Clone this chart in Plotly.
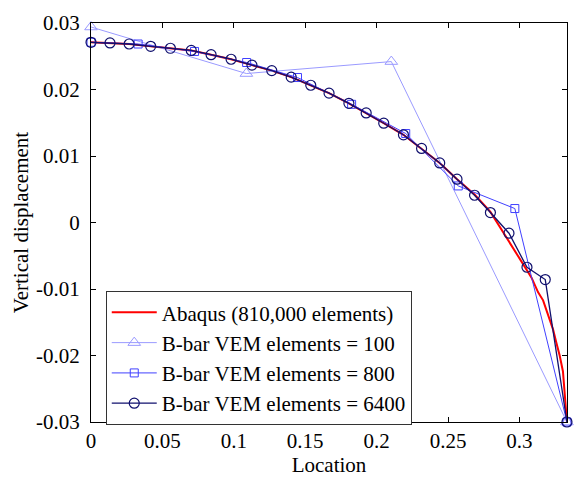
import plotly.graph_objects as go

# Abaqus reference solution (810,000 elements)
abaqus_x = [0, 0.0133, 0.0267, 0.0418, 0.0556, 0.0702, 0.0841, 0.0981, 0.1127, 0.1266,
            0.1402, 0.1539, 0.1667, 0.1806, 0.1927, 0.2050, 0.2188, 0.2315, 0.2442, 0.2563,
            0.2686, 0.2797, 0.2910, 0.3027, 0.3085, 0.3131, 0.3166, 0.3200, 0.3236, 0.3258,
            0.3282, 0.3305, 0.3317, 0.3333]
abaqus_y = [0.0271, 0.0270, 0.02684, 0.0265, 0.0262, 0.02587, 0.02523, 0.02455, 0.02367, 0.02284,
            0.02186, 0.02064, 0.01945, 0.01792, 0.01647, 0.01493, 0.01319, 0.01114, 0.00896, 0.00651,
            0.0042, 0.0016, -0.0022, -0.0063, -0.0083, -0.0105, -0.0117, -0.0137, -0.0161, -0.0180,
            -0.0200, -0.0224, -0.0259, -0.0300]

# B-bar VEM, 100 elements
vem100_x = [0, 0.1088, 0.2103, 0.3333]
vem100_y = [0.0294, 0.0224, 0.0242, -0.0300]

# B-bar VEM, 800 elements
vem800_x = [0, 0.0330, 0.0725, 0.1090, 0.1446, 0.1825, 0.2204, 0.2572, 0.2968, 0.3333]
vem800_y = [0.0271, 0.02684, 0.02572, 0.02406, 0.0218, 0.01777, 0.01338, 0.0055, 0.0021, -0.0300]

# B-bar VEM, 6400 elements
vem6400_x = [0, 0.0133, 0.0267, 0.0418, 0.0556, 0.0702, 0.0841, 0.0981, 0.1127, 0.1266,
             0.1402, 0.1539, 0.1667, 0.1806, 0.1927, 0.2050, 0.2188, 0.2315, 0.2442, 0.2563,
             0.2686, 0.2797, 0.2927, 0.3053, 0.3181, 0.3333]
vem6400_y = [0.0271, 0.0270, 0.02684, 0.0265, 0.0262, 0.02587, 0.02523, 0.02455, 0.02367, 0.02284,
             0.02186, 0.02064, 0.01945, 0.01792, 0.01647, 0.01493, 0.01319, 0.01114, 0.00896, 0.00651,
             0.0041, 0.0015, -0.00161, -0.00673, -0.00858, -0.0300]

x_ticks = [0, 0.05, 0.1, 0.15, 0.2, 0.25, 0.3]
x_tick_text = ["0", "0.05", "0.1", "0.15", "0.2", "0.25", "0.3"]
y_ticks = [-0.03, -0.02, -0.01, 0, 0.01, 0.02, 0.03]
y_tick_text = ["-0.03", "-0.02", "-0.01", "0", "0.01", "0.02", "0.03"]

FONT = "Times New Roman"
TXT = dict(family=FONT, size=21, color="black")

fig = go.Figure()
fig.add_trace(go.Scatter(x=abaqus_x, y=abaqus_y, mode="lines",
                         name="Abaqus (810,000 elements)",
                         line=dict(color="#FF0000", width=2)))
fig.add_trace(go.Scatter(x=vem100_x, y=vem100_y, mode="lines+markers",
                         name="B-bar VEM elements = 100", cliponaxis=False,
                         line=dict(color="#9A9AFF", width=1),
                         marker=dict(symbol="triangle-up-open", size=11, color="#9A9AFF",
                                     line=dict(width=1))))
fig.add_trace(go.Scatter(x=vem800_x, y=vem800_y, mode="lines+markers",
                         name="B-bar VEM elements = 800", cliponaxis=False,
                         line=dict(color="#4040FF", width=1),
                         marker=dict(symbol="square-open", size=8, color="#4040FF",
                                     line=dict(width=1))))
fig.add_trace(go.Scatter(x=vem6400_x, y=vem6400_y, mode="lines+markers",
                         name="B-bar VEM elements = 6400", cliponaxis=False,
                         line=dict(color="#10106E", width=1.3),
                         marker=dict(symbol="circle-open", size=10, color="#10106E",
                                     line=dict(width=1.2))))

axis_common = dict(showline=True, linecolor="black", linewidth=1, mirror="ticks",
                   ticks="inside", ticklen=5, tickcolor="black", showgrid=False,
                   zeroline=False, tickfont=TXT)

fig.update_xaxes(range=[0, 1/3], tickvals=x_ticks, ticktext=x_tick_text,
                 title=dict(text="Location", font=TXT, standoff=4),
                 **axis_common)
fig.update_yaxes(range=[-0.03, 0.03], tickvals=y_ticks, ticktext=y_tick_text,
                 ticklabelstandoff=6,
                 title=dict(text="Vertical displacement", font=TXT, standoff=1),
                 **axis_common)

fig.update_layout(
    width=579, height=483,
    margin=dict(l=91, r=11, t=16, b=57),
    plot_bgcolor="white", paper_bgcolor="white",
    font=TXT,
    showlegend=True,
    legend=dict(x=0.031, y=0.16, xanchor="left", yanchor="middle",
                bgcolor="white", bordercolor="#333333", borderwidth=1,
                font=TXT, itemwidth=45, tracegroupgap=0),
)

fig.write_html("out.html")
